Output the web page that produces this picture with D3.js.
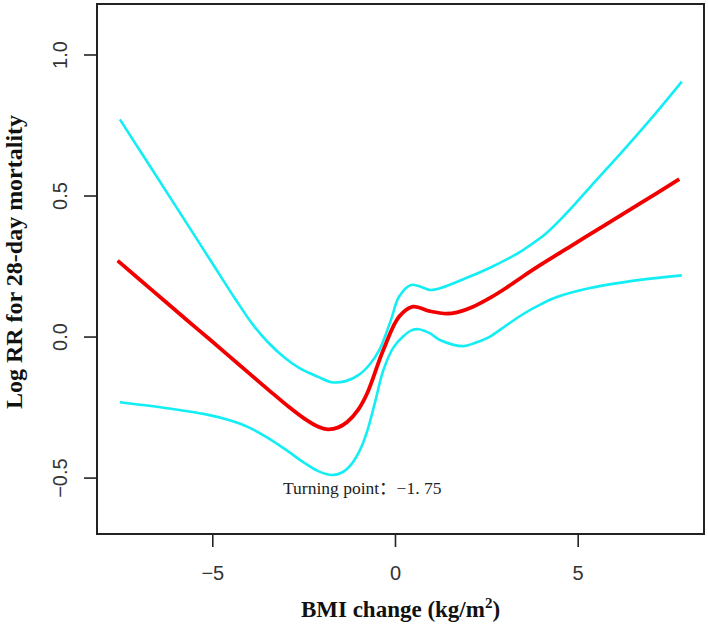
<!DOCTYPE html>
<html>
<head>
<meta charset="utf-8">
<title>BMI change and 28-day mortality</title>
<script src="https://cdn.jsdelivr.net/npm/d3@7"></script>
<style>
  body{margin:0;background:#fff;}
  .tick text{font-family:"Liberation Sans",Arial,sans-serif;font-size:20px;fill:#333;}
  .lab{font-family:"Liberation Serif","Times New Roman",serif;font-weight:bold;font-size:23px;fill:#111;}
</style>
</head>
<body>
<div id="chart"></div>
<script>
// values
var xTicks = [-5, 0, 5];
var yTicks = [-0.5, 0.0, 0.5, 1.0];
var yTickLabels = ["-0.5", "0.0", "0.5", "1.0"];

// fitted log RR (red)
var fitX = [-7.59, -6.61, -5.69, -5.09, -4.28, -3.47, -2.90, -2.49, -2.10, -1.84, -1.55, -1.30, -1.00, -0.76, -0.32, 0.11, 0.49, 0.95, 1.41, 1.70, 2.14, 2.60, 3.06, 3.50, 3.97, 4.88, 5.79, 6.71, 7.78];
var fitY = [0.269, 0.160, 0.058, -0.008, -0.098, -0.188, -0.250, -0.290, -0.320, -0.329, -0.322, -0.302, -0.258, -0.201, -0.048, 0.070, 0.106, 0.090, 0.081, 0.086, 0.106, 0.137, 0.174, 0.213, 0.253, 0.326, 0.399, 0.472, 0.558];

// upper confidence band (cyan)
var upX = [-7.53, -6.61, -5.47, -4.99, -4.39, -3.90, -3.47, -3.00, -2.60, -2.10, -1.73, -1.35, -0.98, -0.70, -0.43, -0.11, 0.11, 0.44, 0.98, 1.23, 2.00, 2.60, 3.15, 3.45, 3.70, 4.10, 4.43, 4.90, 5.34, 6.25, 6.98, 7.85];
var upY = [0.770, 0.585, 0.355, 0.258, 0.137, 0.044, -0.021, -0.077, -0.113, -0.143, -0.162, -0.158, -0.135, -0.100, -0.048, 0.059, 0.141, 0.183, 0.165, 0.171, 0.210, 0.244, 0.280, 0.302, 0.324, 0.362, 0.402, 0.466, 0.530, 0.660, 0.768, 0.904];

// lower confidence band (cyan)
var loX = [-7.53, -6.18, -5.20, -4.50, -4.00, -3.47, -3.00, -2.49, -2.10, -1.73, -1.45, -1.19, -0.95, -0.76, -0.55, -0.32, -0.05, 0.22, 0.45, 0.65, 0.95, 1.23, 1.87, 2.20, 2.60, 3.05, 3.51, 4.00, 4.43, 5.34, 6.71, 7.85];
var loY = [-0.233, -0.255, -0.275, -0.298, -0.322, -0.360, -0.400, -0.447, -0.477, -0.491, -0.482, -0.452, -0.400, -0.335, -0.235, -0.120, -0.040, 0.000, 0.022, 0.026, 0.012, -0.012, -0.034, -0.022, 0.000, 0.040, 0.080, 0.115, 0.140, 0.172, 0.201, 0.217];

var W = 708, H = 631;
var box = {left: 97, right: 704, top: 4, bottom: 534};

var svg = d3.select("#chart").append("svg")
  .attr("width", W).attr("height", H);

var x = d3.scaleLinear().domain([-8.155, 8.457]).range([box.left, box.right]);
var y = d3.scaleLinear().domain([-0.700, 1.179]).range([box.bottom, box.top]);

var line = d3.line()
  .x(function(d){ return x(d[0]); })
  .y(function(d){ return y(d[1]); })
  .curve(d3.curveCatmullRom.alpha(0.5));

function pairs(a, b){ return a.map(function(v, i){ return [v, b[i]]; }); }

svg.append("path").datum(pairs(upX, upY))
  .attr("d", line).attr("fill", "none")
  .attr("stroke", "#12eef4").attr("stroke-width", 2.6);
svg.append("path").datum(pairs(loX, loY))
  .attr("d", line).attr("fill", "none")
  .attr("stroke", "#12eef4").attr("stroke-width", 2.6);
svg.append("path").datum(pairs(fitX, fitY))
  .attr("d", line).attr("fill", "none")
  .attr("stroke", "#f20000").attr("stroke-width", 3.8);

// frame
svg.append("rect")
  .attr("x", box.left).attr("y", box.top)
  .attr("width", box.right - box.left).attr("height", box.bottom - box.top)
  .attr("fill", "none").attr("stroke", "#222").attr("stroke-width", 2);

// axes
var xAxis = d3.axisBottom(x).tickValues(xTicks).tickSize(13).tickPadding(19)
  .tickFormat(function(d){ return d < 0 ? "\u2212" + Math.abs(d) : d; });
var gx = svg.append("g").attr("transform", "translate(0," + box.bottom + ")").call(xAxis);
gx.select(".domain").remove();

var yAxis = d3.axisLeft(y).tickValues(yTicks).tickSize(13)
  .tickFormat(function(d, i){ return yTickLabels[i].replace("-", "\u2212"); });
var gy = svg.append("g").attr("transform", "translate(" + box.left + ",0)").call(yAxis);
gy.select(".domain").remove();
gy.selectAll(".tick text")
  .attr("x", null)
  .attr("text-anchor", "middle")
  .attr("transform", "translate(-37,0) rotate(-90)")
  .attr("dy", "0.35em");

svg.selectAll(".tick line").attr("stroke", "#222").attr("stroke-width", 1.6);

// labels
svg.append("text").attr("class", "lab")
  .attr("x", (box.left + box.right) / 2).attr("y", 617)
  .attr("text-anchor", "middle")
  .html('BMI change (kg/m<tspan dy="-9" font-size="15">2</tspan><tspan dy="9">)</tspan>');

svg.append("text").attr("class", "lab")
  .attr("transform", "translate(22,262) rotate(-90)")
  .attr("text-anchor", "middle")
  .style("font-size", "24px")
  .text("Log RR for 28-day mortality");

svg.append("text")
  .attr("x", 283).attr("y", 494)
  .style("font-family", "'Liberation Serif','Noto Sans CJK SC',serif")
  .style("font-size", "17.5px").attr("fill", "#222")
  .text("Turning point\uff1a\u22121. 75");
</script>
</body>
</html>
